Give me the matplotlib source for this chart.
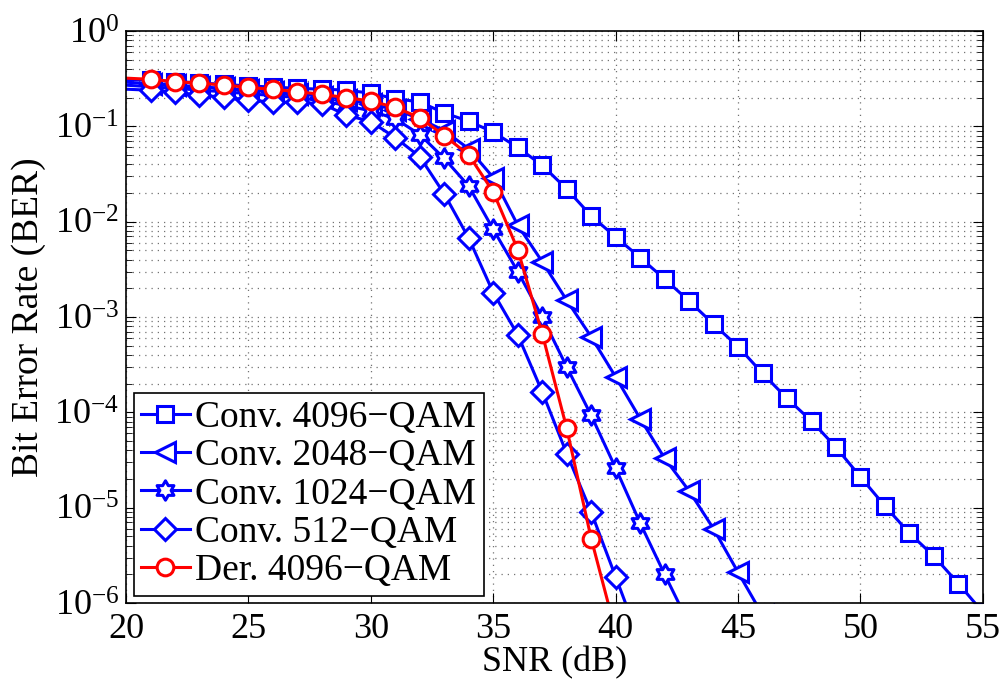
import numpy as np
import matplotlib
matplotlib.use("Agg")
import matplotlib.pyplot as plt
from matplotlib.path import Path
from matplotlib.ticker import LogLocator, NullFormatter, FixedLocator

# datos
snr_4096 = list(range(20, 56))
ber_4096 = [0.31, 0.305, 0.295, 0.285, 0.275, 0.265, 0.258, 0.25, 0.245, 0.24,
            0.222, 0.195, 0.18, 0.138, 0.113, 0.087, 0.06, 0.039, 0.022, 0.0115,
            0.0069, 0.0042, 0.0025, 0.00147, 8.4e-4, 4.9e-4, 2.56e-4, 1.4e-4, 8.1e-5, 4.3e-5,
            2.1e-5, 1.04e-5, 5.4e-6, 3.1e-6, 1.6e-6, 8e-7]

snr_2048 = list(range(20, 47))
ber_2048 = [0.29, 0.28, 0.27, 0.26, 0.25, 0.24, 0.23, 0.22, 0.205, 0.19,
            0.17, 0.15, 0.12, 0.09, 0.058, 0.029, 0.0092, 0.0038, 0.0015, 6.2e-4,
            2.35e-4, 8.6e-5, 3.3e-5, 1.5e-5, 6e-6, 2.1e-6, 7.5e-7]

snr_1024 = list(range(20, 44))
ber_1024 = [0.27, 0.26, 0.25, 0.24, 0.23, 0.22, 0.21, 0.2, 0.185, 0.165,
            0.145, 0.12, 0.082, 0.046, 0.0236, 0.0083, 0.003, 0.001, 3.0e-4, 9.3e-5,
            2.6e-5, 6.9e-6, 2.0e-6, 6e-7]

snr_512 = list(range(20, 42))
ber_512 = [0.245, 0.239, 0.229, 0.211, 0.203, 0.188, 0.18, 0.178, 0.173, 0.131,
           0.112, 0.076, 0.048, 0.0195, 0.0067, 0.0018, 6.5e-4, 1.64e-4, 3.7e-5, 9e-6,
           1.88e-6, 3.9e-7]

snr_der = list(range(20, 41))
ber_der = [0.32, 0.311, 0.294, 0.283, 0.271, 0.256, 0.244, 0.231, 0.216, 0.2,
           0.184, 0.158, 0.123, 0.08, 0.05, 0.0205, 0.0051, 6.7e-4, 6.8e-5, 4.75e-6,
           5e-7]

etiquetas = ['Conv. 4096\u2212QAM', 'Conv. 2048\u2212QAM', 'Conv. 1024\u2212QAM',
             'Conv. 512\u2212QAM', 'Der. 4096\u2212QAM']

plt.rcParams['font.family'] = ['Liberation Serif', 'DejaVu Serif']
plt.rcParams['mathtext.fontset'] = 'custom'
plt.rcParams['mathtext.rm'] = 'Liberation Serif'
plt.rcParams['mathtext.it'] = 'Liberation Serif:italic'

# hexagrama tipo matlab
ang = np.pi / 2 + np.arange(12) * np.pi / 6
rad = np.where(np.arange(12) % 2 == 0, 1.0, 1 / np.sqrt(3))
verts = np.column_stack([rad * np.cos(ang), rad * np.sin(ang)])
verts = np.vstack([verts, verts[0]])
hexagrama = Path(verts, [Path.MOVETO] + [Path.LINETO] * 11 + [Path.CLOSEPOLY])

fig = plt.figure(figsize=(10.05, 6.88), dpi=100)
ax = fig.add_axes([0.1254, 0.1235, 0.8526, 0.8315])

azul = '#0000ff'
rojo = '#ff0000'
estilo = dict(lw=2.2, mew=2.2, mfc='white', markevery=slice(1, None))
ax.semilogy(snr_4096, ber_4096, '-', color=azul, marker='s', ms=11, label=etiquetas[0], **estilo)
ax.semilogy(snr_2048, ber_2048, '-', color=azul, marker='<', ms=15, label=etiquetas[1], **estilo)
ax.semilogy(snr_1024, ber_1024, '-', color=azul, marker=hexagrama, ms=14, label=etiquetas[2], **estilo)
ax.semilogy(snr_512, ber_512, '-', color=azul, marker='D', ms=11, label=etiquetas[3], **estilo)
ax.semilogy(snr_der, ber_der, '-', color=rojo, marker='o', ms=12, label=etiquetas[4], **estilo)

ax.set_xlim(20, 55)
ax.set_ylim(1e-6, 1)
ax.xaxis.set_major_locator(FixedLocator([20, 25, 30, 35, 40, 45, 50, 55]))
ax.yaxis.set_major_locator(LogLocator(base=10, numticks=10))
ax.yaxis.set_minor_locator(LogLocator(base=10, subs=np.arange(2, 10), numticks=20))
ax.yaxis.set_minor_formatter(NullFormatter())

punteado = (0, (1, 4))
ax.grid(True, which='major', linestyle=punteado, color='0.45', lw=0.9)
ax.grid(True, which='minor', axis='y', linestyle=punteado, color='0.45', lw=0.9)
ax.tick_params(which='both', direction='in', top=True, right=True, labelsize=26, pad=7)
ax.tick_params(axis='y', pad=5)
ax.tick_params(which='major', length=7)
ax.tick_params(which='minor', length=4)
for s in ax.spines.values():
    s.set_linewidth(1.2)

ax.set_xlabel('SNR (dB)', fontsize=26, labelpad=0)
ax.set_ylabel('Bit Error Rate (BER)', fontsize=27, labelpad=6)

ley = ax.legend(loc='lower left', fontsize=27, numpoints=1, handlelength=1.3, handletextpad=0.15,
                labelspacing=0.1, borderpad=0.2, borderaxespad=0.2, fancybox=False,
                framealpha=1, edgecolor='black')
ley.get_frame().set_linewidth(1.2)
# un solo marcador en el centro de cada linea de la leyenda
for h in ley.legend_handles:
    h.set_markevery([1])

plt.savefig('out.png', dpi=100)
